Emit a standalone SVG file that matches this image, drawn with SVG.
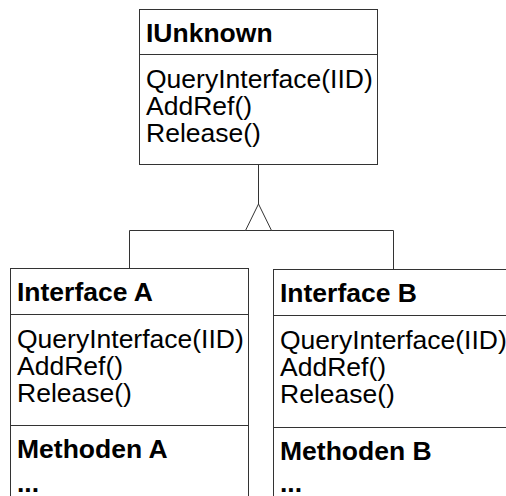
<svg xmlns="http://www.w3.org/2000/svg" width="506" height="496" viewBox="0 0 506 496">
  <style>
    .box { fill: #ffffff; stroke: #333333; stroke-width: 1; }
    .sep { stroke: #333333; stroke-width: 1; }
    .edge { fill: none; stroke: #333333; stroke-width: 1; }
    .tri { fill: #ffffff; stroke: #333333; stroke-width: 1; }
    text { font-family: "Liberation Sans", Arial, sans-serif; font-size: 26.5px; fill: #000000; }
    .title { font-weight: bold; }
  </style>
  <rect width="506" height="496" fill="#ffffff"/>

  <!-- inheritance connectors -->
  <g id="connectors">
    <path class="edge" d="M258.5,165 V204"/>
    <path class="edge" d="M129.5,268 V230.5 H393.5 V269"/>
    <polygon class="tri" points="258.5,204 245.5,230.5 271.5,230.5"/>
  </g>

  <g id="iunknown">
    <rect class="box" x="139.5" y="9.5" width="238" height="155"/>
    <line class="sep" x1="139.5" y1="54.5" x2="377.5" y2="54.5"/>
    <text class="title" x="146" y="41.5">IUnknown</text>
    <text x="146" y="88">QueryInterface(IID)</text>
    <text x="146" y="115">AddRef()</text>
    <text x="146" y="142">Release()</text>
  </g>

  <g id="interface-a">
    <rect class="box" x="10.5" y="268.5" width="238" height="240"/>
    <line class="sep" x1="10.5" y1="314.5" x2="248.5" y2="314.5"/>
    <line class="sep" x1="10.5" y1="425.5" x2="248.5" y2="425.5"/>
    <text class="title" x="17" y="300.5">Interface A</text>
    <text x="17" y="348">QueryInterface(IID)</text>
    <text x="17" y="375">AddRef()</text>
    <text x="17" y="402">Release()</text>
    <text class="title" x="17" y="457.5">Methoden A</text>
    <text class="title" x="17" y="492">...</text>
  </g>

  <g id="interface-b">
    <rect class="box" x="273.5" y="269.5" width="238" height="240"/>
    <line class="sep" x1="273.5" y1="315.5" x2="511.5" y2="315.5"/>
    <line class="sep" x1="273.5" y1="427.5" x2="511.5" y2="427.5"/>
    <text class="title" x="280" y="301.5">Interface B</text>
    <text x="280" y="349">QueryInterface(IID)</text>
    <text x="280" y="376">AddRef()</text>
    <text x="280" y="403">Release()</text>
    <text class="title" x="280" y="459.5">Methoden B</text>
    <text class="title" x="280" y="492">...</text>
  </g>
</svg>
